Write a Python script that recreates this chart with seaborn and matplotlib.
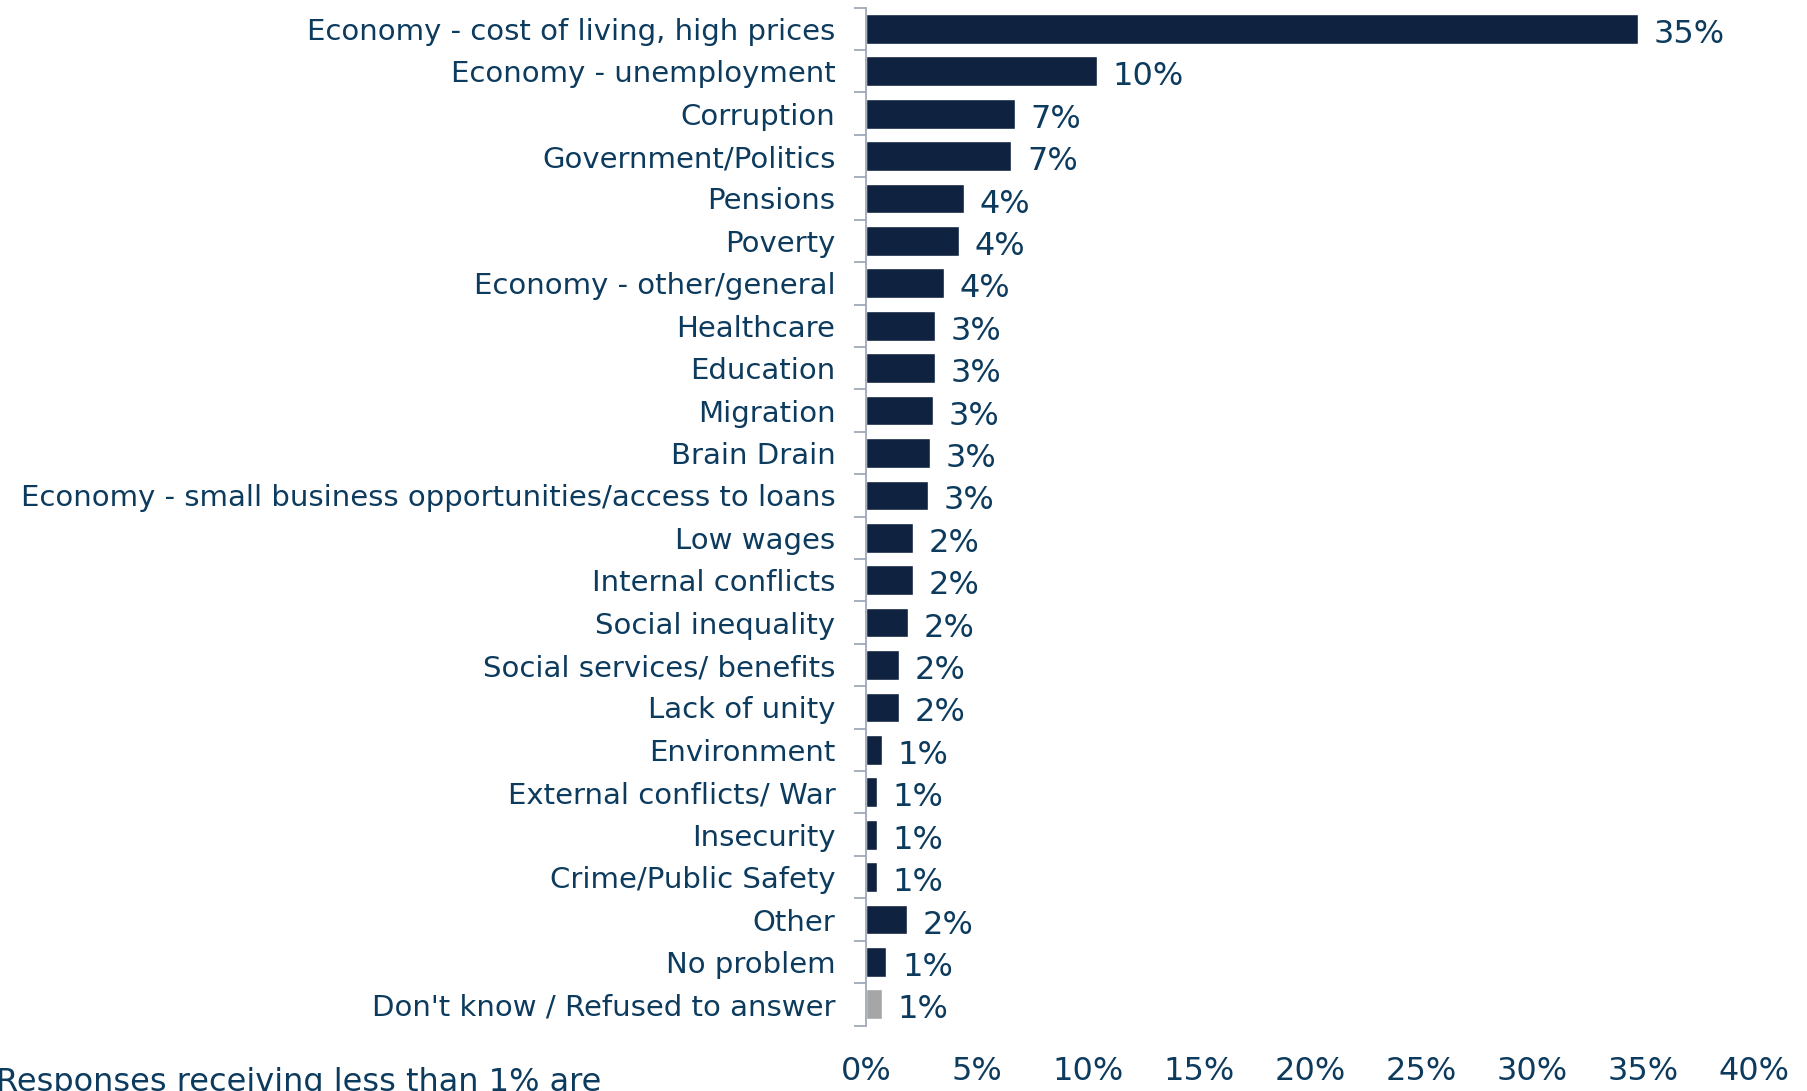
import matplotlib
matplotlib.use("Agg")
import matplotlib.pyplot as plt
import seaborn as sns
import pandas as pd
import numpy as np

categories = [
    "Economy - cost of living, high prices",
    "Economy - unemployment",
    "Corruption",
    "Government/Politics",
    "Pensions",
    "Poverty",
    "Economy - other/general",
    "Healthcare",
    "Education",
    "Migration",
    "Brain Drain",
    "Economy - small business opportunities/access to loans",
    "Low wages",
    "Internal conflicts",
    "Social inequality",
    "Social services/ benefits",
    "Lack of unity",
    "Environment",
    "External conflicts/ War",
    "Insecurity",
    "Crime/Public Safety",
    "Other",
    "No problem",
    "Don't know / Refused to answer",
]
values = [34.8, 10.4, 6.7, 6.55, 4.4, 4.2, 3.5, 3.1, 3.1, 3.0, 2.9, 2.8,
          2.1, 2.1, 1.9, 1.5, 1.5, 0.72, 0.5, 0.5, 0.5, 1.84, 0.92, 0.72]
value_labels = ["35%", "10%", "7%", "7%", "4%", "4%", "4%", "3%", "3%", "3%", "3%", "3%",
                "2%", "2%", "2%", "2%", "2%", "1%", "1%", "1%", "1%", "2%", "1%", "1%"]
xticks = [0, 5, 10, 15, 20, 25, 30, 35, 40]
xtick_labels = ["0%", "5%", "10%", "15%", "20%", "25%", "30%", "35%", "40%"]
footnote = "Responses receiving less than 1% are"

NAVY = "#0F223F"
GREY = "#A6A6A6"
TEXT = "#0D3B5E"

sns.set_theme(style="white")
plt.rcParams["font.family"] = ["DejaVu Sans"]

df = pd.DataFrame({"cat": categories, "val": values})
colors = [NAVY] * (len(categories) - 1) + [GREY]

fig = plt.figure(figsize=(18.08, 10.91), dpi=100)
ax = fig.add_axes([0.479, 0.060, 0.491, 0.933])

sns.barplot(data=df, y="cat", x="val", hue="cat", palette=colors, legend=False,
            orient="h", width=0.7, ax=ax, saturation=1)

for i, (v, lab) in enumerate(zip(values, value_labels)):
    ax.text(v + 0.7, i + 0.13, lab, va="center", ha="left", fontsize=23,
            color=TEXT, fontweight="medium")

ax.set_xlim(0, 40)
ax.set_ylim(len(categories) - 0.5, -0.5)
ax.set_xticks(xticks)
ax.set_xticklabels(xtick_labels, fontsize=23, color=TEXT)
ax.set_yticks(range(len(categories)))
ax.set_yticklabels(categories, fontsize=21, color=TEXT)
ax.tick_params(axis="y", which="major", length=0, pad=22)
ax.tick_params(axis="x", length=0, pad=22)
ax.set_yticks(np.arange(-0.5, len(categories), 1.0), minor=True)
ax.tick_params(axis="y", which="minor", left=True, length=9, width=1.3,
               color="#A0A8B8", labelleft=False)
ax.set_xlabel("")
ax.set_ylabel("")
for s in ["top", "right", "bottom"]:
    ax.spines[s].set_visible(False)
ax.spines["left"].set_color("#A0A8B8")
ax.spines["left"].set_linewidth(1.3)

fig.text(-0.002, 0.022, footnote, ha="left", va="top", fontsize=23, color=TEXT)

fig.savefig("out.png", dpi=100)
